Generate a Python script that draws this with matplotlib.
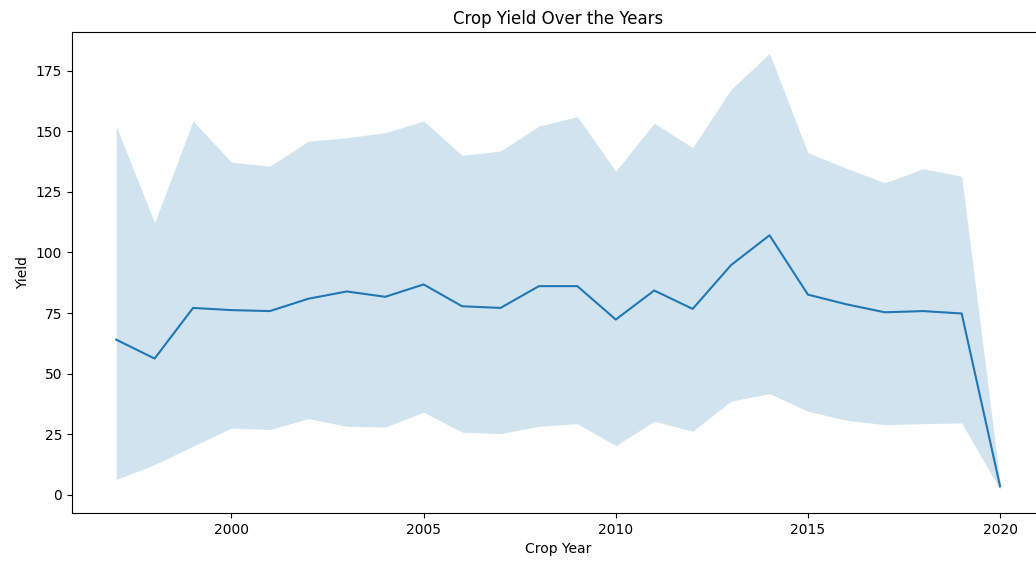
import matplotlib
matplotlib.use("Agg")
import matplotlib.pyplot as plt

years = list(range(1997, 2021))
mean_yield = [64.0, 56.2, 77.1, 76.2, 75.8, 80.9, 83.9, 81.7, 86.8, 77.8, 77.1, 86.1,
              86.1, 72.3, 84.3, 76.7, 94.8, 107.1, 82.6, 78.6, 75.3, 75.8, 74.8, 3.4]
upper_ci = [152.2, 112.3, 154.3, 137.3, 135.7, 146.0, 147.4, 149.5, 154.3, 140.1, 141.9, 152.2,
            156.1, 133.6, 153.4, 143.3, 167.4, 182.2, 141.2, 134.8, 128.8, 134.6, 131.5, 5.0]
lower_ci = [6.2, 12.4, 20.0, 27.5, 26.9, 31.4, 28.2, 27.9, 34.0, 25.8, 25.2, 28.2,
            29.3, 20.2, 30.3, 26.2, 38.6, 41.7, 34.4, 30.7, 28.9, 29.3, 29.6, 2.0]

fig = plt.figure(figsize=(10.36, 5.64), dpi=100)
ax = fig.add_axes([0.0695, 0.0904, 0.9385, 0.8526])

ax.fill_between(years, lower_ci, upper_ci, color="#1f77b4", alpha=0.2, linewidth=0)
ax.plot(years, mean_yield, color="#1f77b4", linewidth=1.5)

ax.set_xlim(1997 - 1.15, 2020 + 1.15)
ax.set_ylim(-7.6, 191)
ax.set_xticks([2000, 2005, 2010, 2015, 2020])
ax.set_yticks([0, 25, 50, 75, 100, 125, 150, 175])
ax.set_title("Crop Yield Over the Years")
ax.set_xlabel("Crop Year")
ax.set_ylabel("Yield")

fig.savefig("out.png", dpi=100)
